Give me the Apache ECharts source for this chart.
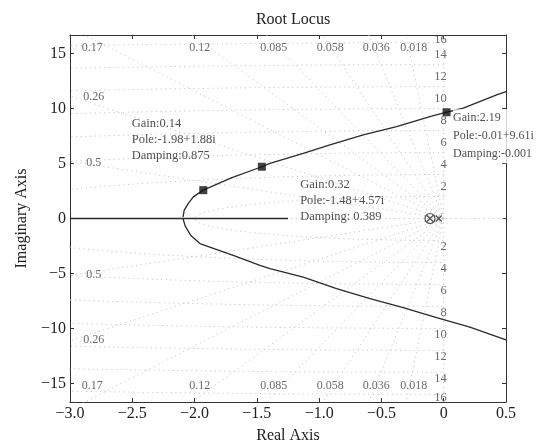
<!DOCTYPE html>
<html>
<head>
<meta charset="utf-8">
<script src="https://cdn.jsdelivr.net/npm/echarts@6/dist/echarts.min.js"></script>
<style>
html,body{margin:0;padding:0;background:#fff;}
#chart{width:540px;height:443px;}
</style>
</head>
<body>
<div id="chart"></div>
<script>
// ---- data ----
const titleText = 'Root Locus';
const xName = 'Real Axis';
const yName = 'Imaginary Axis';
const xMin = -3, xMax = 0.5, xStep = 0.5;
const yMin = -16.7, yMax = 16.7;
const yTickValues = [-15, -10, -5, 0, 5, 10, 15];

// root locus branches (real, imag)
const realAxisBranch = [[-3, 0], [-2.09, 0], [-1.25, 0]];
const upperBranch = [[-2.093,0.12],[-2.083,0.76],[-2.05,1.37],[-2.01,1.97],[-1.93,2.58],[-1.70,3.72],[-1.46,4.71],[-1.395,5.02],[-1.128,5.93],[-0.913,6.69],[-0.646,7.60],[-0.378,8.36],[-0.111,9.27],[0.023,9.67],[0.157,10.04],[0.425,11.25],[0.5,11.55]];
const lowerBranch = [[-2.093,0],[-2.075,-0.7],[-2.03,-1.55],[-1.957,-2.28],[-1.69,-3.35],[-1.475,-4.26],[-1.395,-4.56],[-1.128,-5.33],[-0.86,-6.39],[-0.592,-7.30],[-0.325,-8.12],[-0.057,-9.03],[0.21,-9.89],[0.5,-11.04]];

// open-loop zero / poles near the origin
const zeros = [[-0.11, 0]];
const poles = [[-0.11, 0], [-0.04, 0]];

// data tips
const tipPoints = [[-1.93, 2.58], [-1.46, 4.71], [0.023, 9.67]];
const tipGain = ['Gain:0.14', 'Gain:0.32', 'Gain:2.19'];
const tipPole = ['Pole:-1.98+1.88i', 'Pole:-1.48+4.57i', 'Pole:-0.01+9.61i'];
const tipDamping = ['Damping:0.875', 'Damping: 0.389', 'Damping:-0.001'];

// s-grid
const dampingValues = ['0.5', '0.26', '0.17', '0.12', '0.085', '0.058', '0.036', '0.018'];
const wnValues = [2, 4, 6, 8, 10, 12, 14, 16];

// ---- build option ----
const FONT = '"Liberation Serif", "DejaVu Serif", serif';
const INK = '#222';
const GRIDC = '#c6c6c6';
const series = [];

function gridLine(data) {
  series.push({
    type: 'line', data: data, symbol: 'none', silent: true, z: 1,
    lineStyle: { color: GRIDC, width: 1, type: [1.2, 3.5] }
  });
}
// constant damping rays
dampingValues.forEach(s => {
  const z = parseFloat(s), r = 40, q = Math.sqrt(1 - z * z);
  gridLine([[0, 0], [-z * r, q * r]]);
  gridLine([[0, 0], [-z * r, -q * r]]);
});
// zeta = 0 and zeta = 1 lines
gridLine([[0, yMin], [0, yMax]]);
gridLine([[xMin, 0], [xMax, 0]]);
// constant natural frequency arcs
wnValues.forEach(w => {
  const pts = [];
  for (let a = 90; a <= 270; a += 1) {
    const t = a * Math.PI / 180;
    pts.push([w * Math.cos(t), w * Math.sin(t)]);
  }
  gridLine(pts);
});

// damping labels at the plot border
const dampLabelData = [];
dampingValues.forEach(s => {
  const z = parseFloat(s), q = Math.sqrt(1 - z * z);
  const tLeft = -xMin / z, tTop = yMax / q;
  if (tTop < tLeft) {
    const x = -z * tTop + 0.06;
    dampLabelData.push({ value: [x, 15.5], name: s });
    dampLabelData.push({ value: [x, -15.25], name: s });
  } else {
    const y = q * tLeft;
    dampLabelData.push({ value: [-2.81, y - 0.1], name: s });
    dampLabelData.push({ value: [-2.81, -y + 0.1], name: s });
  }
});
series.push({
  type: 'scatter', data: dampLabelData, symbol: 'circle', symbolSize: 1, silent: true, z: 2,
  itemStyle: { color: 'rgba(0,0,0,0)' },
  label: { show: true, position: 'inside', formatter: p => p.name, fontFamily: FONT, fontSize: 12, color: '#444' }
});

// natural frequency labels along the imaginary axis
const wnLabelData = [];
wnValues.forEach(w => {
  wnLabelData.push({ value: [0, w], name: String(w), label: { offset: [3, w === 16 ? -3 : -10] } });
  wnLabelData.push({ value: [0, -w], name: String(w), label: { offset: [3, w === 16 ? 3 : 6] } });
});
series.push({
  type: 'scatter', data: wnLabelData, symbol: 'circle', symbolSize: 1, silent: true, z: 2,
  itemStyle: { color: 'rgba(0,0,0,0)' },
  label: { show: true, position: 'inside', align: 'right', formatter: p => p.name, fontFamily: FONT, fontSize: 12.5, color: '#444' }
});

// locus branches
[realAxisBranch, upperBranch, lowerBranch].forEach(d => {
  series.push({
    type: 'line', data: d, symbol: 'none', silent: true, z: 5,
    lineStyle: { color: '#2a2a2a', width: 1.3 }
  });
});

// zero and poles
series.push({
  type: 'scatter', data: zeros, symbol: 'circle', symbolSize: 10, silent: true, z: 6,
  itemStyle: { color: 'rgba(0,0,0,0)', borderColor: '#222', borderWidth: 1.2 }
});
series.push({
  type: 'scatter', data: poles, symbol: 'path://M0,0L10,10M10,0L0,10', symbolSize: 6, silent: true, z: 6,
  itemStyle: { color: 'rgba(0,0,0,0)', borderColor: '#222', borderWidth: 1.2 }
});

// data tip markers with text
const tipOffsets = [[-71.6, -74.3], [38.3, 9.6], [6.5, -3]];
const tipLineHeights = [16, 16, 18];
series.push({
  type: 'scatter', symbol: 'rect', symbolSize: 8, silent: true, z: 10,
  itemStyle: { color: '#111' },
  data: tipPoints.map((p, i) => ({
    value: p,
    label: {
      show: true, position: 'inside', align: 'left', verticalAlign: 'top',
      offset: tipOffsets[i], lineHeight: tipLineHeights[i],
      formatter: [tipGain[i], tipPole[i], tipDamping[i]].join('\n'),
      fontFamily: FONT, fontSize: i === 2 ? 12 : 12.5, color: '#222',
      backgroundColor: i === 2 ? '#fff' : 'transparent', padding: 0
    }
  }))
});

const fmtMinus = s => s.replace('-', '\u2212');
const axisLineStyle = { lineStyle: { color: '#333', width: 1 } };
const tickStyle = { show: true, inside: true, length: 4, lineStyle: { color: '#333', width: 1 } };

const option = {
  animation: false,
  backgroundColor: '#fff',
  title: {
    text: titleText, left: 288, top: 7, textAlign: 'center',
    textStyle: { fontFamily: FONT, fontSize: 16, fontWeight: 'normal', color: INK }
  },
  grid: { left: 70, right: 34, top: 35, bottom: 41, containLabel: false, outerBoundsMode: 'none' },
  xAxis: [{
    type: 'value', min: xMin, max: xMax, interval: xStep, position: 'bottom',
    name: xName, nameLocation: 'middle', nameGap: 26,
    nameTextStyle: { fontFamily: FONT, fontSize: 16, color: INK },
    axisLine: Object.assign({ show: true, onZero: false }, axisLineStyle),
    axisTick: tickStyle,
    axisLabel: {
      margin: 4, fontFamily: FONT, fontSize: 16, color: INK,
      formatter: v => v === 0 ? '0' : fmtMinus(v.toFixed(1))
    },
    splitLine: { show: false }
  }, {
    type: 'value', min: xMin, max: xMax, interval: xStep, position: 'top',
    axisLine: Object.assign({ show: true, onZero: false }, axisLineStyle),
    axisTick: tickStyle, axisLabel: { show: false }, splitLine: { show: false }
  }],
  yAxis: [{
    type: 'value', min: yMin, max: yMax, position: 'left',
    name: yName, nameLocation: 'middle', nameGap: 40, nameRotate: 90,
    nameTextStyle: { fontFamily: FONT, fontSize: 16, color: INK },
    axisLine: Object.assign({ show: true, onZero: false }, axisLineStyle),
    axisTick: Object.assign({ customValues: yTickValues }, tickStyle),
    axisLabel: {
      customValues: yTickValues, margin: 4, fontFamily: FONT, fontSize: 16, color: INK,
      formatter: v => fmtMinus(String(v))
    },
    splitLine: { show: false }
  }, {
    type: 'value', min: yMin, max: yMax, position: 'right',
    axisLine: Object.assign({ show: true, onZero: false }, axisLineStyle),
    axisTick: Object.assign({ customValues: yTickValues }, tickStyle),
    axisLabel: { show: false }, splitLine: { show: false }
  }],
  series: series
};

const chart = echarts.init(document.getElementById('chart'), null, { renderer: 'canvas' });
chart.setOption(option);
</script>
</body>
</html>
